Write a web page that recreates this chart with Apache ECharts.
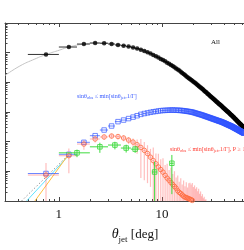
<!DOCTYPE html>
<html><head><meta charset="utf-8">
<script src="https://cdn.jsdelivr.net/npm/echarts@6/dist/echarts.min.js"></script>
<style>html,body{margin:0;padding:0;background:#fff}#c{width:244px;height:250px}</style>
</head><body><div id="c"></div>
<script>
// ---- data ----
const thetaBins = [0.75,1.25,1.75,2.25,2.75,3.25,3.75,4.25,4.75,5.25,5.75,6.25,6.75,7.25,7.75,8.25,8.75,9.25,9.75,10.25,
10.75,11.25,11.75,12.25,12.75,13.25,13.75,14.25,14.75,15.25,15.75,16.25,16.75,17.25,17.75,18.25,18.75,19.25,19.75,20.25,
20.75,21.25,21.75,22.25,22.75,23.25,23.75,24.25,24.75,25.25,25.75,26.25,26.75,27.25,27.75,28.25,28.75,29.25,29.75,30.25,
30.75,31.25,31.75,32.25,32.75,33.25,33.75,34.25,34.75,35.25,35.75,36.25,36.75,37.25,37.75,38.25,38.75,39.25,39.75,40.25,
40.75,41.25,41.75,42.25,42.75,43.25,43.75,44.25,44.75,45.25,45.75,46.25,46.75,47.25,47.75,48.25,48.75,49.25,49.75,50.25,
50.75,51.25,51.75,52.25,52.75,53.25,53.75,54.25,54.75,55.25,55.75,56.25,56.75,57.25,57.75,58.25,58.75,59.25,59.75,60.25,
60.75,61.25,61.75,62.25,62.75];
const binHalfWidth = 0.25;
const allCounts = [87100,154900,195000,211300,208000,195900,181100,171800,160300,148600,137400,125600,114300,104000,93100,83800,75700,68200,61700,56200,
50900,46100,42200,38500,35200,32100,29500,27100,24900,22800,20800,19100,17500,16100,14800,13800,12900,12000,11200,10500,
9840,9290,8650,8090,7570,7130,6670,6280,5920,5570,5250,4940,4680,4430,4160,3940,3750,3550,3360,3200,
3050,2880,2750,2620,2490,2390,2280,2170,2080,1990,1910,1830,1750,1680,1610,1550,1480,1420,1370,1320,
1270,1220,1170,1120,1080,1040,1010,973,940,906,875,843,815,785,764,735,706,685,659,638,
614,596,577,555,537,521,505,490,471,456,442,429,415,403,393,381,369,358,347,339,
327,316,309,299,288];
const blueCounts = [8.45,37.5,95,159,247,337,473,535,600,673,748,832,887,931,977,1016,1047,1079,1109,1127,
1135,1146,1153,1161,1164,1156,1148,1143,1135,1127,1119,1102,1084,1067,1052,1038,1023,1007,991,964,
940,918,893,873,853,836,817,800,782,762,745,726,711,695,679,664,652,638,624,612,
600,587,575,565,555,546,536,525,516,507,499,491,483,475,468,460,451,441,434,425,
418,408,402,394,386,379,373,366,361,354,348,342,336,330,326,319,313,307,301,296,
289,284,280,274,269,265,260,256,251,247,242,238,234,230,227,223,219,216,212,209,
205,202,199,195,192];
const redCounts = [7.5,33.7,83,123,144,155,149,133,113,97,79,64,51,40,30,23,18,14,11.5,9.4,
7.3,5.9,5.0,4.2,3.6,3.1,2.7,2.2,1.95,1.8,1.6,1.45,1.35,1.3,1.25,1.2,1.15,1.1,1.05,0.95,
0.85,0.8,0.7,0.65,0.6,0.55,0.5,0.45,0.4,0.35,0.3,0.3,0.25];
const redErr = [11.5,25,30,30,30,30,30,30,30,30,40,58,46,36,27,40,22,25,14,18,
9,12,6,9,4.5,7,3.5,5,2.5,4,2,3.5,1.8,3,1.6,2.8,3,2.5,3,2,
2.5,1.8,2.2,1.5,2,1.2,1.6,1,1.3,0.9,1.1,0.8,0.9];
const greenTheta = [1.5,2.5,3.5,4.5,5.5,8.5,12.5];
const greenHalfWidth = 0.5;
const greenCounts = [42,67,77,61,56,9.5,18.7];
const greenErr = [12,25,22,18,14,11.5,17];
const allFitTheta = [0.3,0.418,0.585,0.76,1.02,1.25,1.75,2.5,4,7,10,15,20,30,45,65];
const allFitCounts = [16980,35500,61100,87900,122700,155000,195000,212000,176000,109000,58900,23800,10850,3280,923,250];
const dottedFitTheta = [0.434,1.19];
const dottedFitCounts = [1,31];
const cyanFitTheta = [0.486,1.259];
const cyanFitCounts = [1,35.5];
const orangeFitTheta = [0.585,1.231];
const orangeFitCounts = [1,35.5];
const xMajorTicks = [1,10,100];
const xMinorTicks = [0.3,0.4,0.5,0.6,0.7,0.8,0.9,2,3,4,5,6,7,8,9,20,30,40,50,60,70,80,90];
const xTickLabels = [1,10];
const yMajorTicks = [1,10,100,1000,10000,100000,1000000];
const yMinorTicks = [2,3,4,5,6,7,8,9,20,30,40,50,60,70,80,90,200,300,400,500,600,700,800,900,
2000,3000,4000,5000,6000,7000,8000,9000,20000,30000,40000,50000,60000,70000,80000,90000,
200000,300000,400000,500000,600000,700000,800000,900000];

// ---- chart ----
const SERIF = "'Liberation Serif','Times New Roman',serif";
const AX = '#444';
const chart = echarts.init(document.getElementById('c'), null, {renderer:'canvas'});

function errData(xs, ys, hw, errs) {
  return xs.map((x, i) => {
    const e = errs ? errs[i] : 0;
    return [x, ys[i], x - hw, x + hw, ys[i] - e, ys[i] + e];
  });
}
function errRender(color, width) {
  return function (params, api) {
    const x = api.value(0), y = api.value(1);
    const p1 = api.coord([api.value(2), y]), p2 = api.coord([api.value(3), y]);
    const children = [{type:'line', shape:{x1:p1[0],y1:p1[1],x2:p2[0],y2:p2[1]}, style:{stroke:color,lineWidth:width}}];
    const lo = api.value(4), hi = api.value(5);
    if (hi > lo) {
      const p3 = api.coord([x, Math.max(lo, 0.3)]), p4 = api.coord([x, hi]);
      children.push({type:'line', shape:{x1:p3[0],y1:p3[1],x2:p4[0],y2:p4[1]}, style:{stroke:color,lineWidth:width}});
    }
    return {type:'group', children};
  };
}
function xAx(pos, ticks, len, showLine, labels) {
  return {type:'log', logBase:10, min:0.3, max:100, position:pos, gridIndex:0,
    axisLine:{show:showLine, onZero:false, lineStyle:{color:AX,width:1}},
    axisTick:{show:true, inside:true, length:len, customValues:ticks, lineStyle:{color:AX,width:1}},
    axisLabel: labels ? {show:true, customValues:labels, fontFamily:SERIF, fontSize:13, color:'#111', margin:7} : {show:false},
    splitLine:{show:false}, minorTick:{show:false}};
}
function yAx(ticks, len, showLine) {
  return {type:'log', logBase:10, min:1, max:1000000, position:'left', gridIndex:0,
    axisLine:{show:showLine, onZero:false, lineStyle:{color:AX,width:1}},
    axisTick:{show:true, inside:true, length:len, customValues:ticks, lineStyle:{color:AX,width:1}},
    axisLabel:{show:false}, splitLine:{show:false}, minorTick:{show:false}};
}
const zip = (a, b) => a.map((v, i) => [v, b[i]]);

chart.setOption({
  animation:false,
  backgroundColor:'#fff',
  grid:{left:5, top:23, width:259.9, height:178, containLabel:false, outerBoundsMode:'none'},
  xAxis:[xAx('bottom', xMajorTicks, 4, true, xTickLabels), xAx('bottom', xMinorTicks, 2, false, null),
         xAx('top', xMajorTicks, 4, true, null), xAx('top', xMinorTicks, 2, false, null)],
  yAxis:[yAx(yMajorTicks, 5, true), yAx(yMinorTicks, 2.5, false)],
  series:[
    {type:'line', data:zip(allFitTheta, allFitCounts), smooth:true, symbol:'none', lineStyle:{color:'#c4c4c4', width:1}, z:1},
    {type:'line', data:zip(dottedFitTheta, dottedFitCounts), symbol:'none', lineStyle:{color:'#999', width:1, type:[1.5,2]}, z:1},
    {type:'line', data:zip(cyanFitTheta, cyanFitCounts), symbol:'none', lineStyle:{color:'#5fe3ff', width:1}, z:1},
    {type:'line', data:zip(orangeFitTheta, orangeFitCounts), symbol:'none', lineStyle:{color:'#ffbf40', width:1}, z:1},
    {type:'custom', clip:true, data:errData(thetaBins, allCounts, binHalfWidth, null), renderItem:errRender('#333', 1), encode:{x:0,y:1}, z:2},
    {type:'scatter', data:zip(thetaBins, allCounts), symbol:'circle', symbolSize:4.5, itemStyle:{color:'#000'}, z:3},
    {type:'custom', clip:true, data:errData(thetaBins, blueCounts, binHalfWidth, null), renderItem:errRender('rgba(60,95,255,0.75)', 1), encode:{x:0,y:1}, z:4},
    {type:'scatter', data:zip(thetaBins, blueCounts), symbol:'rect', symbolSize:4.5, itemStyle:{color:'rgba(0,0,0,0)', borderColor:'rgba(50,85,255,0.85)', borderWidth:1}, z:5},
    {type:'custom', clip:true, data:errData(thetaBins.slice(0, redCounts.length), redCounts, binHalfWidth, redErr), renderItem:errRender('rgba(255,110,110,0.45)', 1.2), encode:{x:0,y:1}, z:6},
    {type:'scatter', data:zip(thetaBins.slice(0, redCounts.length), redCounts), symbol:'circle', symbolSize:4.5, itemStyle:{color:'rgba(0,0,0,0)', borderColor:'#ff6a3d', borderWidth:1}, z:7},
    {type:'custom', clip:true, data:errData(greenTheta, greenCounts, greenHalfWidth, greenErr), renderItem:errRender('#3fdc3f', 1), encode:{x:0,y:1}, z:8},
    {type:'scatter', data:zip(greenTheta, greenCounts), symbol:'rect', symbolSize:4.5, itemStyle:{color:'rgba(0,0,0,0)', borderColor:'#33d633', borderWidth:1}, z:9}
  ],
  graphic:[
    {type:'text', x:211, y:42, z:100, style:{text:'All', fontFamily:SERIF, fontSize:7, fill:'#111', verticalAlign:'middle'}},
    {type:'text', x:77, y:97, z:100, style:{text:'{a|sinθ}{s|obs}{a| ≤ min[sinθ}{s|jet}{a|,1/Γ]}', verticalAlign:'middle',
      rich:{a:{fontFamily:SERIF, fontSize:6, fill:'#3a5cff', verticalAlign:'bottom', padding:[0,0,1.5,0]},
            s:{fontFamily:SERIF, fontSize:4.5, fill:'#3a5cff', verticalAlign:'bottom'}}}},
    {type:'text', x:170, y:150, z:100, style:{text:'{a|sinθ}{s|obs}{a| ≤ min[sinθ}{s|jet}{a|,1/Γ], P ≥ 10%}', verticalAlign:'middle',
      rich:{a:{fontFamily:SERIF, fontSize:6, fill:'#ff3b30', verticalAlign:'bottom', padding:[0,0,1.5,0]},
            s:{fontFamily:SERIF, fontSize:4.5, fill:'#ff3b30', verticalAlign:'bottom'}}}},
    {type:'text', x:135, y:236, z:100, style:{text:'{i|θ}{s|jet}{a| [deg]}', align:'center', verticalAlign:'middle',
      rich:{i:{fontFamily:SERIF, fontSize:14, fontStyle:'italic', fill:'#111', verticalAlign:'bottom', padding:[0,0,3,0]},
            s:{fontFamily:SERIF, fontSize:9, fill:'#111', verticalAlign:'bottom'},
            a:{fontFamily:SERIF, fontSize:13, fill:'#111', verticalAlign:'bottom', padding:[0,0,3,0]}}}}
  ]
});
</script></body></html>
